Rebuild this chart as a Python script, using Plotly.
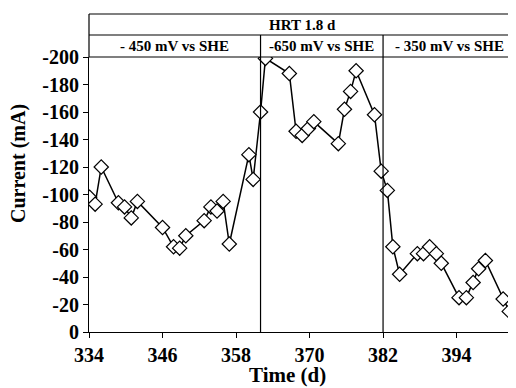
import plotly.graph_objects as go

days = [334.1, 335.0, 336.0, 338.8, 339.8, 340.9, 341.9, 346.0, 347.8, 348.8,
        349.8, 352.8, 353.9, 354.9, 355.9, 356.9, 360.1, 360.8, 362.0, 362.8,
        366.7, 367.8, 368.8, 369.8, 370.7, 374.7, 375.7, 376.7, 377.6, 380.6,
        381.7, 382.7, 383.6, 384.7, 387.6, 388.6, 389.6, 390.7, 391.5, 394.4,
        395.6, 396.7, 397.6, 398.7, 401.6, 402.6, 403.7]
current = [-98, -93, -120, -94, -91, -83, -95, -76, -62, -61,
           -70, -81, -91, -88, -95, -64, -129, -111, -160, -199,
           -188, -146, -143, -148, -153, -137, -162, -175, -190, -158,
           -117, -103, -62, -42, -57, -57, -62, -57, -50, -25,
           -25, -36, -46, -52, -24, -15, -9]

x_ticks = [334, 346, 358, 370, 382, 394]
y_ticks = [0, -20, -40, -60, -80, -100, -120, -140, -160, -180, -200]
y_tick_text = ["0", "-20", "-40", "-60", "-80", "-100", "-120", "-140", "-160", "-180", "-200"]

phase_bounds = [334, 362, 382, 403.7]
phase_labels = ["- 450 mV vs SHE", "-650 mV vs SHE", "- 350 mV vs SHE"]
header = "HRT 1.8 d"

FONT = "Liberation Serif, Times New Roman, serif"
BOLD = dict(family=FONT, color="black", weight="bold")

fig = go.Figure()
fig.add_trace(go.Scatter(
    x=days, y=current, mode="lines+markers",
    line=dict(color="black", width=1.5),
    marker=dict(symbol="diamond", size=11, color="white",
                line=dict(color="black", width=1.2)),
    cliponaxis=True, showlegend=False,
))

LW = 1.2
shapes = []
for xb in phase_bounds[1:3]:
    shapes.append(dict(type="line", xref="x", yref="paper", x0=xb, x1=xb,
                       y0=0, y1=1.08, line=dict(color="black", width=LW)))
for yy in [1.0, 1.08, 1.1564]:
    shapes.append(dict(type="line", xref="paper", yref="paper", x0=0, x1=1,
                       y0=yy, y1=yy, line=dict(color="black", width=LW)))
shapes.append(dict(type="line", xref="paper", yref="paper", x0=0, x1=0,
                   y0=1.0, y1=1.1564, line=dict(color="black", width=LW)))

annotations = [dict(text=header, xref="paper", yref="paper", x=0.5, y=1.118,
                    xanchor="center", yanchor="middle", showarrow=False,
                    font=dict(size=15, **BOLD))]
for i, lab in enumerate(phase_labels):
    annotations.append(dict(text=lab, xref="x", yref="paper",
                            x=(phase_bounds[i] + phase_bounds[i + 1]) / 2, y=1.04,
                            xanchor="center", yanchor="middle", showarrow=False,
                            font=dict(size=15, **BOLD)))
annotations.append(dict(text="Time (d)", xref="paper", yref="paper", x=0.465, y=-0.158,
                        xanchor="center", yanchor="middle", showarrow=False,
                        font=dict(size=21, **BOLD)))
annotations.append(dict(text="Current (mA)", xref="paper", yref="paper", x=-0.165, y=0.613,
                        xanchor="center", yanchor="middle", textangle=-90, showarrow=False,
                        font=dict(size=20, **BOLD)))

fig.update_layout(
    width=508, height=380,
    margin=dict(l=81, r=0, t=49, b=56),
    paper_bgcolor="white", plot_bgcolor="white",
    shapes=shapes, annotations=annotations,
    xaxis=dict(range=[334, 403.7], tickvals=x_ticks, ticktext=[str(v) for v in x_ticks],
               showgrid=False, zeroline=False, showline=True, linecolor="black", linewidth=LW,
               ticks="outside", ticklen=5, tickcolor="black", tickwidth=1,
               tickfont=dict(size=20, **BOLD)),
    yaxis=dict(range=[0, -200], tickvals=y_ticks, ticktext=y_tick_text,
               ticksuffix="\u00a0\u00a0",
               showgrid=False, zeroline=False, showline=True, linecolor="black", linewidth=LW,
               ticks="outside", ticklen=5, tickcolor="black", tickwidth=1,
               tickfont=dict(size=20, **BOLD)),
)

fig.write_html("out.html")
